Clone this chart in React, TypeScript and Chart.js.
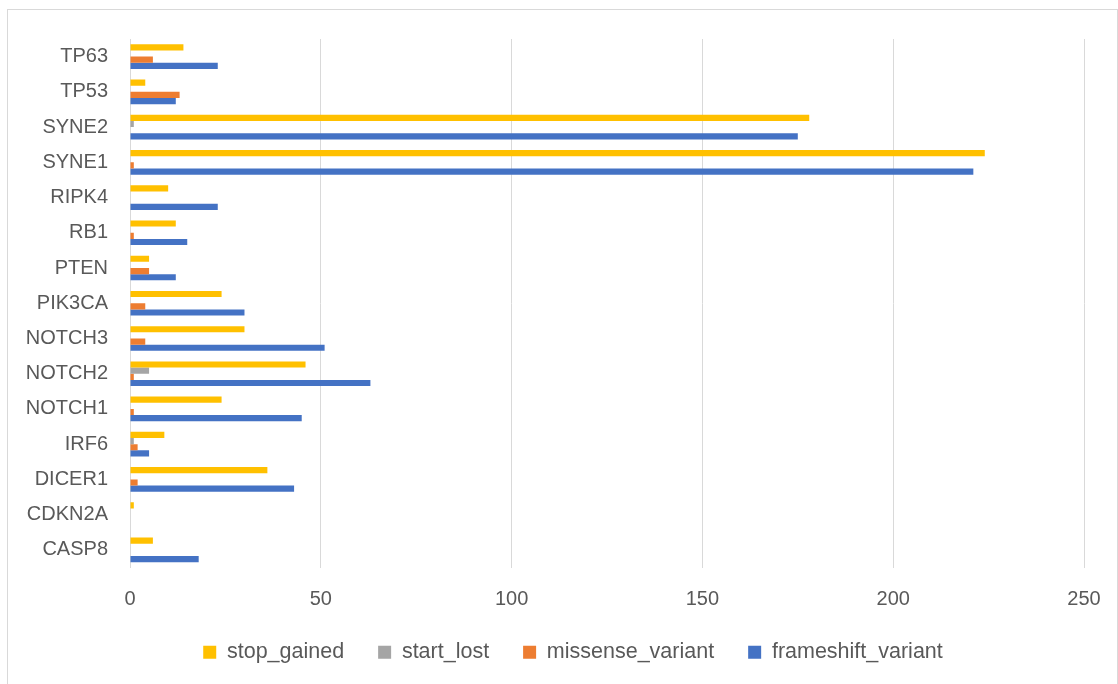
import React, { useEffect, useRef } from "react";
import { Chart, registerables } from "chart.js";

Chart.register(...registerables);

// Genes, listed bottom to top along the category axis
const genes = [
  "CASP8", "CDKN2A", "DICER1", "IRF6", "NOTCH1", "NOTCH2", "NOTCH3",
  "PIK3CA", "PTEN", "RB1", "RIPK4", "SYNE1", "SYNE2", "TP53", "TP63",
];

// Variant counts per gene (same order as genes)
const stopGained = [6, 1, 36, 9, 24, 46, 30, 24, 5, 12, 10, 224, 178, 4, 14];
const startLost = [0, 0, 0, 1, 0, 5, 0, 0, 0, 0, 0, 0, 1, 0, 0];
const missenseVariant = [0, 0, 2, 2, 1, 1, 4, 4, 5, 1, 0, 1, 0, 13, 6];
const frameshiftVariant = [18, 0, 43, 5, 45, 63, 51, 30, 12, 15, 23, 221, 175, 12, 23];

const seriesNames = ["stop_gained", "start_lost", "missense_variant", "frameshift_variant"];
const seriesColors = ["#FFC000", "#A5A5A5", "#ED7D31", "#4472C4"];

const xMin = 0;
const xMax = 250;
const xStep = 50;

const FONT = "'Liberation Sans', Arial, sans-serif";
const TEXT = "#595959";
const GRID = "#D9D9D9";
const CLEAR = "rgba(0,0,0,0)";

// Centre the legend row under the whole canvas rather than the padded area
const legendShift = {
  id: "legendShift",
  afterLayout(chart: any) {
    const legend = chart.legend;
    if (legend) {
      legend.left += 27;
      legend.right += 27;
    }
  },
};

export default function App() {
  const canvasRef = useRef<HTMLCanvasElement | null>(null);

  useEffect(() => {
    const canvas = canvasRef.current;
    if (!canvas) return;
    const values = [stopGained, startLost, missenseVariant, frameshiftVariant];
    const chart = new Chart(canvas, {
      type: "bar",
      data: {
        labels: genes,
        datasets: seriesNames.map((name, i) => ({
          label: name,
          data: values[i],
          backgroundColor: seriesColors[i],
          borderWidth: 0,
          categoryPercentage: 0.7,
          barPercentage: 1.0,
        })),
      },
      options: {
        indexAxis: "y",
        responsive: false,
        animation: false,
        layout: { padding: { top: 29, right: 33, left: 0, bottom: 11 } },
        scales: {
          x: {
            min: xMin,
            max: xMax,
            ticks: {
              stepSize: xStep,
              color: TEXT,
              font: { family: FONT, size: 20 },
              padding: 0,
            },
            grid: {
              color: GRID,
              lineWidth: 1,
              drawTicks: true,
              tickLength: 20,
              tickColor: CLEAR,
            },
            border: { display: false },
            afterFit: (scale: any) => {
              scale.height = 40;
            },
          },
          y: {
            reverse: true,
            ticks: {
              color: TEXT,
              font: { family: FONT, size: 20 },
              padding: 0,
            },
            grid: {
              display: true,
              drawOnChartArea: false,
              drawTicks: true,
              tickLength: 22,
              tickColor: CLEAR,
            },
            border: { display: false },
            afterFit: (scale: any) => {
              scale.width = 122;
            },
          },
        },
        plugins: {
          legend: {
            position: "bottom",
            labels: {
              boxWidth: 13,
              boxHeight: 13,
              padding: 34,
              color: TEXT,
              font: { family: FONT, size: 21.5 },
            },
          },
          tooltip: { enabled: false },
        },
      },
      plugins: [legendShift],
    });
    return () => chart.destroy();
  }, []);

  return (
    <div
      style={{
        position: "fixed",
        left: 7,
        top: 9,
        width: 1111,
        height: 690,
        boxSizing: "border-box",
        border: "1px solid #D9D9D9",
        background: "#fff",
      }}
    >
      <canvas ref={canvasRef} width={1109} height={674} style={{ display: "block" }} />
    </div>
  );
}
